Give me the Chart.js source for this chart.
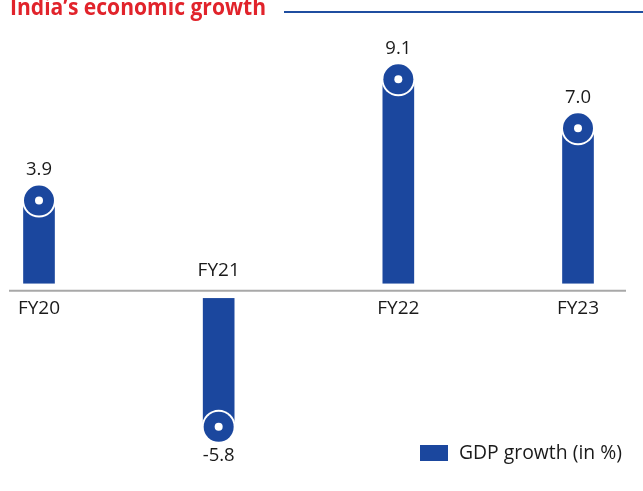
<!DOCTYPE html>
<html>
<head>
<meta charset="utf-8">
<script src="https://cdn.jsdelivr.net/npm/chart.js@4"></script>
<style>
html,body{margin:0;padding:0;background:#fff;}
#wrap{width:643px;height:491px;position:relative;}
</style>
</head>
<body>
<div id="wrap"><canvas id="c" width="643" height="491"></canvas></div>
<script>
const categories = ["FY20", "FY21", "FY22", "FY23"];
const gdpGrowth = [3.9, -5.8, 9.1, 7.0];
const valueLabels = ["3.9", "-5.8", "9.1", "7.0"];
const seriesName = "GDP growth (in %)";
const chartTitle = "India\u2019s economic growth";

const BLUE = "#1b479e";
const RED = "#e1232b";
const TEXT = "#1a1a1a";
const FONT = "'Open Sans', 'DejaVu Sans', sans-serif";

const decor = {
  id: "decor",
  afterDatasetsDraw(chart) {
    const ctx = chart.ctx;
    const y = chart.scales.y;
    const y0 = y.getPixelForValue(0);
    const meta = chart.getDatasetMeta(0);
    ctx.save();
    ctx.fillStyle = "#ffffff";
    ctx.fillRect(0, y0 - 8, chart.width, 14.5);
    ctx.strokeStyle = "#a8a8a8";
    ctx.lineWidth = 2;
    ctx.beginPath();
    ctx.moveTo(9, y0 - 0.8);
    ctx.lineTo(626, y0 - 0.8);
    ctx.stroke();

    meta.data.forEach((bar, i) => {
      const v = gdpGrowth[i];
      const cx = bar.x, cy = bar.y;
      ctx.fillStyle = "#ffffff";
      ctx.beginPath(); ctx.arc(cx, cy, 17, 0, Math.PI * 2); ctx.fill();
      ctx.fillStyle = BLUE;
      ctx.beginPath(); ctx.arc(cx, cy, 15, 0, Math.PI * 2); ctx.fill();
      ctx.fillStyle = "#ffffff";
      ctx.beginPath(); ctx.arc(cx, cy, 4, 0, Math.PI * 2); ctx.fill();
      ctx.fillStyle = TEXT;
      ctx.font = "18.5px " + FONT;
      ctx.textAlign = "center";
      ctx.textBaseline = "middle";
      ctx.fillText(valueLabels[i], cx, v >= 0 ? cy - 31 : cy + 29);
      ctx.font = "19px " + FONT;
      ctx.fillText(categories[i], cx, v >= 0 ? y0 + 17 : y0 - 21);
    });

    // title (condensed by horizontal scaling)
    ctx.save();
    ctx.fillStyle = RED;
    ctx.textAlign = "left";
    ctx.textBaseline = "alphabetic";
    ctx.font = "bold 24px " + FONT;
    const w = ctx.measureText(chartTitle).width;
    const sx = 256 / w;
    ctx.translate(10, 15);
    ctx.scale(sx, 1);
    ctx.fillText(chartTitle, 0, 0);
    ctx.restore();
    ctx.strokeStyle = "#1f4ea0";
    ctx.lineWidth = 2;
    ctx.beginPath();
    ctx.moveTo(284, 12);
    ctx.lineTo(643, 12);
    ctx.stroke();

    // legend
    ctx.fillStyle = BLUE;
    ctx.fillRect(420, 445, 28, 16);
    ctx.fillStyle = TEXT;
    ctx.textAlign = "left";
    ctx.textBaseline = "middle";
    let lf = 18;
    ctx.font = lf + "px " + FONT;
    lf = lf * 163 / ctx.measureText(seriesName).width;
    ctx.font = lf.toFixed(2) + "px " + FONT;
    ctx.fillText(seriesName, 459, 453);
    ctx.restore();
  }
};

new Chart(document.getElementById("c"), {
  type: "bar",
  data: {
    labels: categories,
    datasets: [{
      label: seriesName,
      data: gdpGrowth,
      backgroundColor: BLUE,
      borderWidth: 0,
      barThickness: 31,
      clip: false
    }]
  },
  options: {
    responsive: false,
    animation: false,
    events: [],
    layout: { padding: { left: 39, right: 65, top: 0, bottom: 0 } },
    plugins: { legend: { display: false }, title: { display: false }, tooltip: { enabled: false } },
    scales: {
      x: { display: false, offset: false, grid: { offset: false } },
      y: { display: false, min: -8.55, max: 12.5 }
    }
  },
  plugins: [decor]
});
</script>
</body>
</html>
